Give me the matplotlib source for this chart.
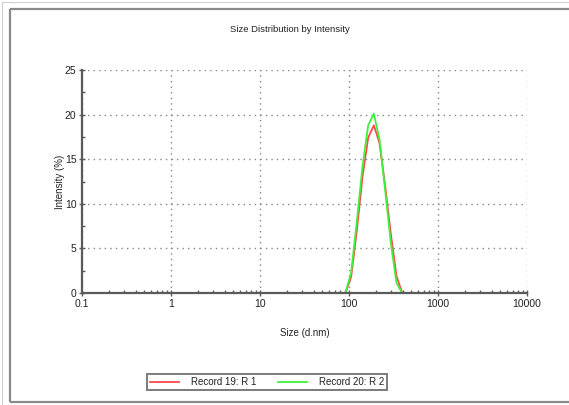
import matplotlib.pyplot as plt
from matplotlib.lines import Line2D

# Size bins (d.nm) as reported by the instrument
sizes = [0.4, 0.4632, 0.5365, 0.6213, 0.7195, 0.8332, 0.9649, 1.117, 1.294, 1.499,
         1.736, 2.010, 2.328, 2.696, 3.122, 3.615, 4.187, 4.849, 5.615, 6.503,
         7.531, 8.721, 10.10, 11.70, 13.54, 15.69, 18.17, 21.04, 24.36, 28.21,
         32.67, 37.84, 43.82, 50.75, 58.77, 68.06, 78.82, 91.28, 105.7, 122.4,
         141.8, 164.2, 190.1, 220.2, 255.0, 295.3, 342.0, 396.1, 458.7, 531.2,
         615.1, 712.4, 825.0, 955.4, 1106, 1281, 1484, 1718, 1990, 2305,
         2669, 3091, 3580, 4145, 4801, 5560, 6439, 7456, 8635, 10000]

# Intensity (%) for the peak bins 91.28 .. 396.1, zero elsewhere
peak_r1 = [0.0, 1.8, 7.0, 13.0, 17.4, 18.8, 16.8, 12.0, 6.6, 1.9, 0.0]
peak_r2 = [0.0, 2.3, 8.0, 14.2, 18.8, 20.1, 17.2, 11.5, 5.6, 1.1, 0.0]
peak_start = sizes.index(91.28)

record_19 = [0.0] * len(sizes)
record_20 = [0.0] * len(sizes)
record_19[peak_start:peak_start + len(peak_r1)] = peak_r1
record_20[peak_start:peak_start + len(peak_r2)] = peak_r2

labels = ["Record 19: R 1", "Record 20: R 2"]
colors = ["#ff4a4a", "#3cf23c"]

plt.rcParams["font.family"] = ["Liberation Sans", "DejaVu Sans"]

fig = plt.figure(figsize=(5.69, 4.05), dpi=100)
ax = fig.add_axes([82 / 569, 1 - 293 / 405, (527 - 82) / 569, (293 - 70) / 405])

ax.plot(sizes, record_19, color=colors[0], lw=1.3, label=labels[0])
ax.plot(sizes, record_20, color=colors[1], lw=1.3, label=labels[1])

ax.set_xscale("log")
ax.set_xlim(0.1, 10000)
ax.set_ylim(0, 25)
ax.set_xticks([0.1, 1, 10, 100, 1000, 10000])
ax.set_xticklabels(["0.1", "1", "10", "100", "1000", "10000"])
ax.set_yticks([0, 5, 10, 15, 20, 25])
ax.set_yticks([2.5, 7.5, 12.5, 17.5, 22.5], minor=True)

for s in ["top", "right"]:
    ax.spines[s].set_visible(False)
for s in ["left", "bottom"]:
    ax.spines[s].set_color("#5a5a5a")
    ax.spines[s].set_linewidth(1.6)

ax.tick_params(which="major", direction="inout", length=4, width=1, color="#5a5a5a",
               labelsize=7.5, labelcolor="#222222", pad=2)
ax.tick_params(which="minor", direction="in", length=2.5, width=1, color="#5a5a5a")
ax.grid(True, which="major", linestyle=(0, (1, 3)), color="#858585", lw=1.0)
ax.set_axisbelow(True)

ax.set_xlabel("Size (d.nm)", fontsize=7, color="#222222", labelpad=14)
ax.set_ylabel("Intensity (%)", fontsize=7, color="#222222", labelpad=0)
fig.text(290 / 569, 1 - 30 / 405, "Size Distribution by Intensity", fontsize=6.8,
         color="#222222", ha="center", va="center")

handles = [Line2D([], [], color=c, lw=1.3) for c in colors]
leg = fig.legend(handles, labels, loc="center", bbox_to_anchor=(267 / 569, 1 - 382 / 405),
                 ncol=2, fontsize=7, frameon=True, fancybox=False, handlelength=3,
                 columnspacing=2.2, handletextpad=1.2, borderpad=0.3)
leg.get_frame().set_edgecolor("#5a5a5a")
leg.get_frame().set_linewidth(1.4)
for t in leg.get_texts():
    t.set_color("#222222")

# page borders around the chart (right side runs off the image)
bl, bt, bb = 10 / 569, 1 - 9 / 405, 1 - 402 / 405
for xs, ys in [([bl, 1.02], [bt, bt]), ([bl, 1.02], [bb, bb]), ([bl, bl], [bt, bb])]:
    fig.lines.append(Line2D(xs, ys, transform=fig.transFigure, color="#8a8a8a", lw=1.6,
                            solid_capstyle="butt"))
fig.lines.append(Line2D([2 / 569, 2 / 569], [0, 1 - 2 / 405], transform=fig.transFigure,
                        color="#cfcfcf", lw=0.8))
fig.lines.append(Line2D([2 / 569, 1], [1 - 2 / 405, 1 - 2 / 405], transform=fig.transFigure,
                        color="#cfcfcf", lw=0.8))

fig.savefig("out.png", dpi=100)
